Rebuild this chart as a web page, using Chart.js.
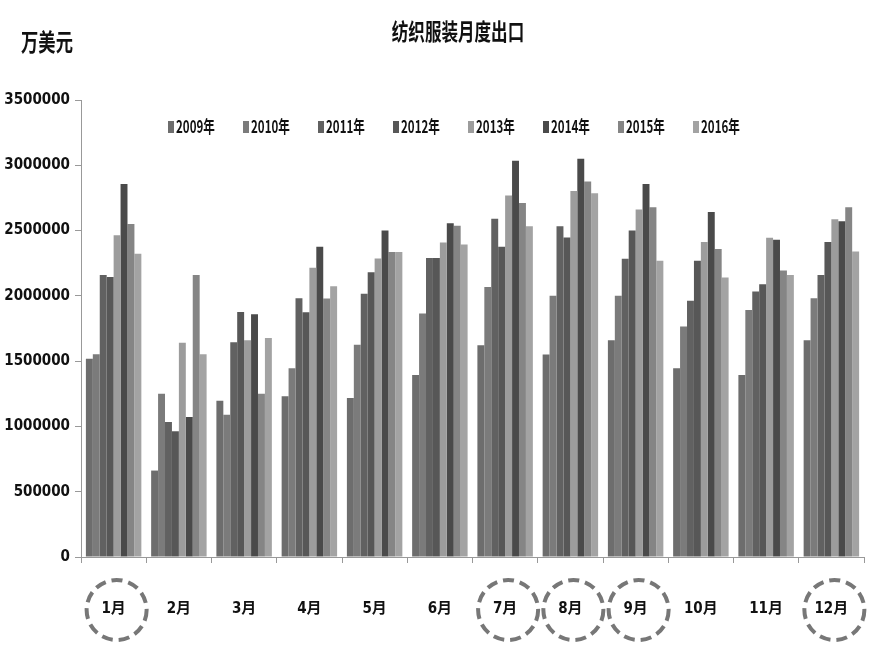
<!DOCTYPE html>
<html>
<head>
<meta charset="utf-8">
<script src="https://cdn.jsdelivr.net/npm/chart.js@4"></script>
<style>
  html, body { margin: 0; padding: 0; background: #fff; }
  #wrap { width: 872px; height: 655px; position: relative; }
</style>
</head>
<body>
<div id="wrap"><canvas id="chart"></canvas></div>
<script>
// Data
const months = ['1月', '2月', '3月', '4月', '5月', '6月', '7月', '8月', '9月', '10月', '11月', '12月'];
const years = ['2009年', '2010年', '2011年', '2012年', '2013年', '2014年', '2015年', '2016年'];
const yTicks = [0, 500000, 1000000, 1500000, 2000000, 2500000, 3000000, 3500000];
const circled = ['1月', '7月', '8月', '9月', '12月'];

const v2009 = [1518000, 662000, 1197000, 1232000, 1217000, 1393000, 1622000, 1551000, 1660000, 1446000, 1393000, 1660000];
const v2010 = [1553000, 1250000, 1090000, 1446000, 1625000, 1864000, 2068000, 2000000, 2000000, 1765000, 1892000, 1981000];
const v2011 = [2160000, 1034000, 1645000, 1981000, 2017000, 2289000, 2590000, 2534000, 2284000, 1963000, 2034000, 2160000];
const v2012 = [2144000, 963000, 1877000, 1874000, 2180000, 2289000, 2376000, 2447000, 2500000, 2269000, 2088000, 2412000];
const v2013 = [2465000, 1640000, 1660000, 2215000, 2287000, 2409000, 2768000, 2804000, 2661000, 2412000, 2445000, 2587000];
const v2014 = [2857000, 1072000, 1859000, 2376000, 2500000, 2557000, 3035000, 3050000, 2857000, 2643000, 2429000, 2572000];
const v2015 = [2551000, 2160000, 1250000, 1979000, 2335000, 2536000, 2712000, 2875000, 2679000, 2358000, 2195000, 2679000];
const v2016 = [2322000, 1553000, 1678000, 2074000, 2335000, 2394000, 2534000, 2786000, 2269000, 2141000, 2160000, 2340000];

const series = [v2009, v2010, v2011, v2012, v2013, v2014, v2015, v2016];
const greys = ['#6d6d6d', '#7b7b7b', '#616161', '#575757', '#9c9c9c', '#4a4a4a', '#858585', '#a3a3a3'];

const narrow = "'DejaVu Sans Condensed', 'Liberation Sans Narrow', 'Noto Sans CJK SC', sans-serif";

// squeezed text, the picture has every label condensed
function squeezed(ctx, text, x, y, size, align, sx) {
    ctx.save();
    ctx.font = `bold ${size}px 'Noto Sans CJK SC', sans-serif`;
    ctx.textBaseline = 'middle';
    ctx.textAlign = align;
    ctx.translate(x, y);
    ctx.scale(sx, 1);
    ctx.fillText(text, 0, 0);
    ctx.restore();
}

const decorPlugin = {
    id: 'decor',
    afterDraw(chart) {
        const ctx = chart.ctx;
        const xs = chart.scales.x;
        ctx.fillStyle = '#111';
        squeezed(ctx, '纺织服装月度出口', 458, 31, 23, 'center', 0.72);
        squeezed(ctx, '万美元', 47, 42, 24, 'center', 0.72);

        // legend inside the plot
        const startX = 168, stepX = 75, ly = 127;
        chart.data.datasets.forEach((ds, i) => {
            const x = startX + i * stepX;
            ctx.fillStyle = ds.backgroundColor;
            ctx.fillRect(x, ly - 6, 6, 12);
            ctx.fillStyle = '#111';
            squeezed(ctx, ds.label, x + 8, ly, 17, 'left', 0.68);
        });

        // dashed rings round some months
        ctx.save();
        ctx.strokeStyle = '#777';
        ctx.lineWidth = 4;
        ctx.setLineDash([11, 6]);
        months.forEach((m, i) => {
            if (!circled.includes(m)) return;
            const cx = xs.getPixelForTick(i) + 3;
            ctx.beginPath();
            ctx.arc(cx, 610, 30, 0, Math.PI * 2);
            ctx.stroke();
        });
        ctx.restore();
    }
};

const ctx = document.getElementById('chart').getContext('2d');
new Chart(ctx, {
    type: 'bar',
    data: {
        labels: months,
        datasets: series.map((vals, i) => ({
            label: years[i],
            data: vals,
            backgroundColor: greys[i],
            borderWidth: 0,
            categoryPercentage: 0.85,
            barPercentage: 1.0
        }))
    },
    options: {
        responsive: true,
        maintainAspectRatio: false,
        animation: false,
        layout: { padding: { top: 100, right: 8, left: 0, bottom: 0 } },
        plugins: {
            legend: { display: false },
            title: { display: false },
            tooltip: { enabled: false }
        },
        scales: {
            x: {
                grid: { drawOnChartArea: false, drawTicks: true, tickLength: 6, color: '#999', offset: true },
                border: { color: '#999', width: 1 },
                ticks: {
                    color: '#111',
                    padding: 37,
                    maxRotation: 0,
                    font: { family: narrow, size: 15, weight: 'bold' }
                },
                afterFit(scale) {
                    scale.height = 98;
                    // the big label gap should not push the plot inwards
                    scale.paddingLeft = 0;
                    scale.paddingRight = 0;
                }
            },
            y: {
                min: 0,
                max: 3500000,
                afterBuildTicks(scale) { scale.ticks = yTicks.map(v => ({ value: v })); },
                grid: { drawOnChartArea: false, drawTicks: true, tickLength: 6, color: '#999' },
                border: { color: '#999', width: 1 },
                ticks: {
                    color: '#111',
                    padding: 5,
                    font: { family: narrow, size: 15, weight: 'bold' },
                    callback: v => String(v)
                },
                afterFit(scale) { scale.width = 81; }
            }
        }
    },
    plugins: [decorPlugin]
});
</script>
</body>
</html>
